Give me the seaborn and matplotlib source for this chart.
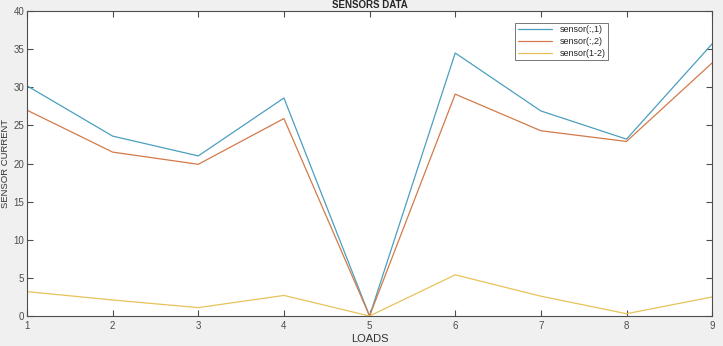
import matplotlib
matplotlib.use('Agg')
import matplotlib.pyplot as plt
import pandas as pd
import seaborn as sns

loads = [1, 2, 3, 4, 5, 6, 7, 8, 9]
sensor_1 = [30.2, 23.6, 21.0, 28.6, 0.0, 34.5, 26.9, 23.2, 35.7]
sensor_2 = [27.0, 21.5, 19.9, 25.9, 0.0, 29.1, 24.3, 22.9, 33.2]
sensor_diff = [3.2, 2.1, 1.1, 2.7, 0.0, 5.4, 2.6, 0.3, 2.5]
series_names = ['sensor(:,1)', 'sensor(:,2)', 'sensor(1-2)']
colors = ['#4b9fbf', '#d27a4a', '#e8c35a']

df = pd.concat([
    pd.DataFrame({'load': loads, 'current': vals, 'series': name})
    for name, vals in zip(series_names, [sensor_1, sensor_2, sensor_diff])
])

sns.set_style('white')
plt.rcParams['font.family'] = ['Liberation Sans', 'DejaVu Sans']

fig = plt.figure(figsize=(7.23, 3.46), dpi=100, facecolor='#f0f0f0')
ax = fig.add_axes([0.0373, 0.0867, 0.9477, 0.8813])
ax.set_facecolor('white')

sns.lineplot(data=df, x='load', y='current', hue='series', palette=colors,
             linewidth=0.9, ax=ax)

ax.set_xlim(1, 9)
ax.set_ylim(0, 40)
ax.set_xticks(loads)
ax.set_yticks(range(0, 41, 5))
ax.tick_params(direction='in', length=4, width=0.8, labelsize=7,
               colors='#4d4d4d', top=True, right=True, bottom=True, left=True)
ax.tick_params(axis='y', pad=2)
for s in ax.spines.values():
    s.set_color('#4d4d4d')
    s.set_linewidth(0.8)

ax.set_xlabel('LOADS', fontsize=8, color='#333333', labelpad=2)
ylab = ax.set_ylabel('SENSOR CURRENT', fontsize=6.8, color='#333333')
ylab.set_verticalalignment('center')
ax.yaxis.set_label_coords(-0.031, 0.5)
ax.set_title('SENSORS DATA', fontsize=7, fontweight='bold', pad=2)

leg = ax.legend(loc='upper right', bbox_to_anchor=(0.855, 0.977), fontsize=6.5,
                frameon=True, fancybox=False, edgecolor='#555555',
                handlelength=3.8, borderpad=0.3, labelspacing=0.3)
leg.get_frame().set_linewidth(0.7)

fig.savefig('out.png', dpi=100, facecolor=fig.get_facecolor())
